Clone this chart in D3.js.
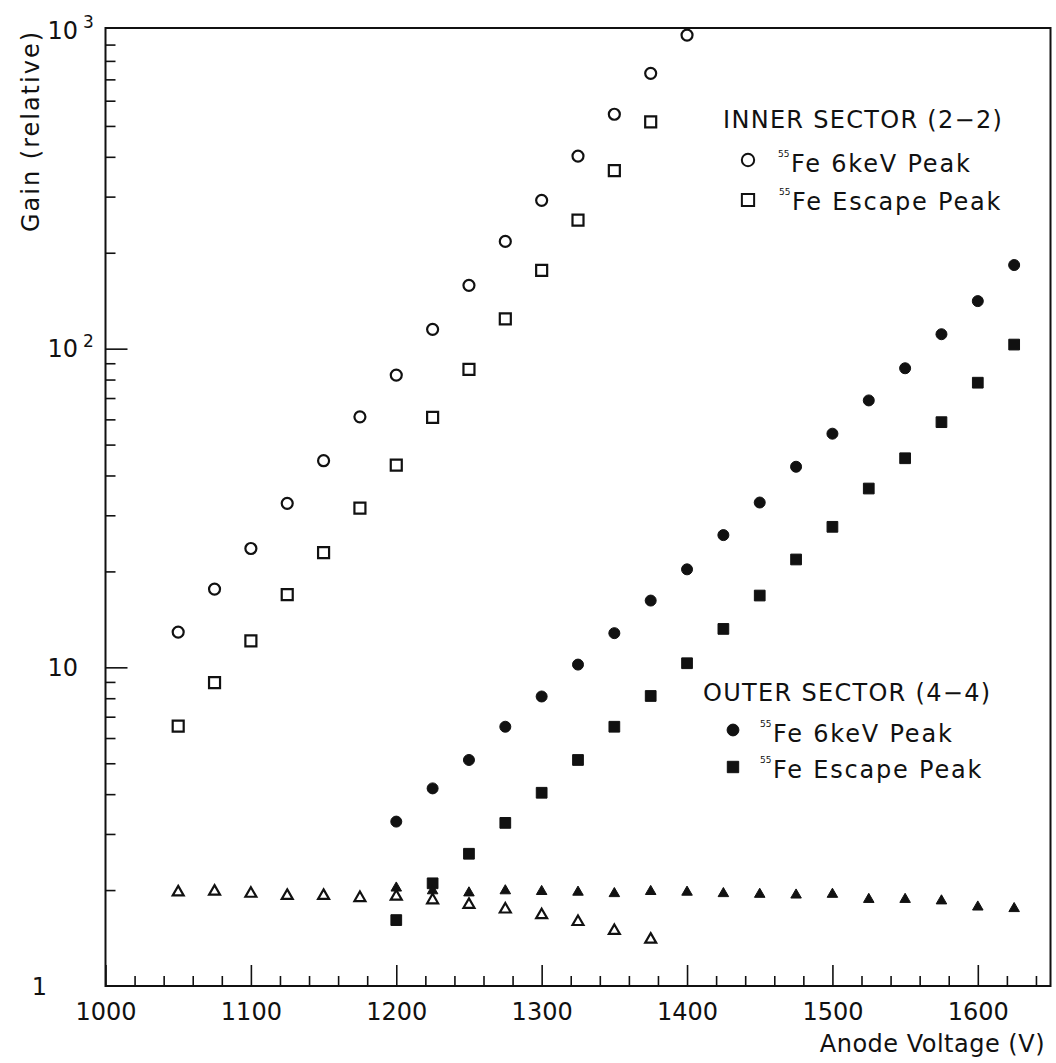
<!DOCTYPE html>
<html>
<head>
<meta charset="utf-8">
<script src="https://cdn.jsdelivr.net/npm/d3@7"></script>
<style>
  body { margin: 0; background: #fff; }
  svg { display: block; }
  text { font-family: "DejaVu Sans", sans-serif; fill: #111; }
</style>
</head>
<body>
<div id="chart"></div>
<script>
// Gain vs anode voltage

// inner sector (2-2)
const voltInner6keV = [1050, 1075, 1100, 1125, 1150, 1175, 1200, 1225, 1250, 1275, 1300, 1325, 1350, 1375, 1400];
const gainInner6keV = [12.9, 17.6, 23.6, 32.7, 44.5, 61.1, 82.6, 115, 158, 217, 292, 402, 544, 731, 964];
const voltInnerEscape = [1050, 1075, 1100, 1125, 1150, 1175, 1200, 1225, 1250, 1275, 1300, 1325, 1350, 1375];
const gainInnerEscape = [6.54, 8.95, 12.1, 16.9, 22.9, 31.6, 43.1, 60.9, 86.1, 124, 176, 253, 362, 515];
const ratioInner = [1.97, 1.98, 1.95, 1.92, 1.92, 1.89, 1.91, 1.86, 1.80, 1.74, 1.67, 1.59, 1.49, 1.40];

// outer sector (4-4)
const voltOuter = [1200, 1225, 1250, 1275, 1300, 1325, 1350, 1375, 1400, 1425, 1450, 1475, 1500, 1525, 1550, 1575, 1600, 1625];
const gainOuter6keV = [3.28, 4.17, 5.12, 6.51, 8.1, 10.2, 12.8, 16.2, 20.3, 26.0, 32.9, 42.6, 54.1, 68.8, 86.8, 111, 141, 183];
const gainOuterEscape = [1.61, 2.10, 2.60, 3.25, 4.04, 5.12, 6.51, 8.13, 10.3, 13.2, 16.8, 21.8, 27.6, 36.4, 45.3, 58.8, 78.2, 103];
const ratioOuter = [2.03, 1.99, 1.96, 1.99, 1.98, 1.97, 1.95, 1.98, 1.97, 1.95, 1.94, 1.93, 1.94, 1.87, 1.87, 1.85, 1.77, 1.75];

// ticks
const xTicksMajor = [1000, 1100, 1200, 1300, 1400, 1500, 1600];
const xTicksMinor = [1020, 1040, 1060, 1080, 1120, 1140, 1160, 1180, 1220, 1240, 1260, 1280,
  1320, 1340, 1360, 1380, 1420, 1440, 1460, 1480, 1520, 1540, 1560, 1580, 1620, 1640];
const yTicksMajor = [10, 100];
const yTicksMinor = [2, 3, 4, 5, 6, 7, 8, 9, 20, 30, 40, 50, 60, 70, 80, 90, 200, 300, 400, 500, 600, 700, 800, 900];
const yTickValues = [1, 10, 100, 1000];
const yTickBase = ["1", "10", "10", "10"];
const yTickExp = ["", "", "2", "3"];

const svgWidth = 1056;
const svgHeight = 1063;

const svg = d3.select("#chart")
  .append("svg")
  .attr("width", svgWidth)
  .attr("height", svgHeight);

// scales
const x = d3.scaleLinear()
  .domain([1000, 1650])
  .range([105.5, 1050.5]);

const y = d3.scaleLog()
  .domain([1, 1000])
  .range([986, 30]);

// frame
svg.append("rect")
  .attr("x", x(1000))
  .attr("y", 28)
  .attr("width", x(1650) - x(1000))
  .attr("height", y(1) - 28)
  .attr("fill", "none")
  .attr("stroke", "#111")
  .attr("stroke-width", 2);

// x axis ticks (pointing inward)
const xMajor = svg.append("g")
  .attr("transform", `translate(0, ${y(1)})`)
  .call(d3.axisBottom(x).tickValues(xTicksMajor).tickSize(-21).tickPadding(34).tickFormat(d3.format("d")));
const xMinor = svg.append("g")
  .attr("transform", `translate(0, ${y(1)})`)
  .call(d3.axisBottom(x).tickValues(xTicksMinor).tickSize(-10).tickFormat(""));

// y axis ticks (pointing inward)
const yMajor = svg.append("g")
  .attr("transform", `translate(${x(1000)}, 0)`)
  .call(d3.axisLeft(y).tickValues(yTicksMajor).tickSize(-22).tickFormat(""));
const yMinor = svg.append("g")
  .attr("transform", `translate(${x(1000)}, 0)`)
  .call(d3.axisLeft(y).tickValues(yTicksMinor).tickSize(-10).tickFormat(""));

[xMajor, xMinor, yMajor, yMinor].forEach(g => {
  g.select(".domain").remove();
  g.selectAll(".tick line").attr("stroke", "#111").attr("stroke-width", 1.6);
});
xMajor.selectAll(".tick text")
  .attr("font-size", 24)
  .attr("font-family", "DejaVu Sans")
  .attr("fill", "#111")
  .attr("dy", 0);

// y tick labels with superscript exponents
yTickValues.forEach((v, i) => {
  svg.append("text")
    .attr("x", v === 1 ? 47 : 78)
    .attr("y", y(v) + 8.5)
    .attr("text-anchor", "end")
    .attr("font-size", 24)
    .text(yTickBase[i]);
  if (yTickExp[i]) {
    svg.append("text")
      .attr("x", 83)
      .attr("y", y(v) - 2)
      .attr("font-size", 17)
      .text(yTickExp[i]);
  }
});

// axis titles
svg.append("text")
  .attr("transform", "translate(39, 131) rotate(-90)")
  .attr("text-anchor", "middle")
  .attr("font-size", 24)
  .attr("letter-spacing", 2)
  .text("Gain (relative)");

svg.append("text")
  .attr("x", 1045)
  .attr("y", 1052)
  .attr("text-anchor", "end")
  .attr("font-size", 24)
  .attr("letter-spacing", 0.5)
  .text("Anode Voltage (V)");

// markers
function drawSeries(volts, gains, type, size, filled) {
  svg.append("g")
    .selectAll("path")
    .data(volts.map((v, i) => ({ v: v, g: gains[i] })))
    .enter()
    .append("path")
    .attr("transform", d => `translate(${x(d.v)}, ${y(d.g)})`)
    .attr("d", d3.symbol().type(type).size(size))
    .attr("fill", filled ? "#111" : "none")
    .attr("stroke", "#111")
    .attr("stroke-width", filled ? 1 : 2.2);
}

drawSeries(voltInner6keV, gainInner6keV, d3.symbolCircle, 95, false);
drawSeries(voltInnerEscape, gainInnerEscape, d3.symbolSquare, 121, false);
drawSeries(voltInnerEscape, ratioInner, d3.symbolTriangle, 52, false);
drawSeries(voltOuter, gainOuter6keV, d3.symbolCircle, 95, true);
drawSeries(voltOuter, gainOuterEscape, d3.symbolSquare, 115, true);
drawSeries(voltOuter, ratioOuter, d3.symbolTriangle, 48, true);

// legends
function legendHeader(xp, yp, label) {
  svg.append("text")
    .attr("x", xp)
    .attr("y", yp)
    .attr("font-size", 24)
    .attr("letter-spacing", 1.3)
    .text(label);
}

function legendRow(mx, my, type, size, filled, tx, ty, label) {
  svg.append("path")
    .attr("transform", `translate(${mx}, ${my})`)
    .attr("d", d3.symbol().type(type).size(size))
    .attr("fill", filled ? "#111" : "none")
    .attr("stroke", "#111")
    .attr("stroke-width", filled ? 1 : 2);
  svg.append("text")
    .attr("x", tx - 1.5)
    .attr("y", ty - 15)
    .attr("text-anchor", "end")
    .attr("font-size", 9)
    .text("55");
  svg.append("text")
    .attr("x", tx)
    .attr("y", ty)
    .attr("font-size", 24)
    .attr("letter-spacing", 1.8)
    .text(label);
}

legendHeader(723, 128, "INNER SECTOR (2\u22122)");
legendRow(748, 160, d3.symbolCircle, 120, false, 791, 172, "Fe 6keV Peak");
legendRow(748, 200, d3.symbolSquare, 150, false, 792, 210, "Fe Escape Peak");

legendHeader(703, 701, "OUTER SECTOR (4\u22124)");
legendRow(733, 730, d3.symbolCircle, 110, true, 773, 742, "Fe 6keV Peak");
legendRow(733, 767, d3.symbolSquare, 130, true, 773, 778, "Fe Escape Peak");
</script>
</body>
</html>
